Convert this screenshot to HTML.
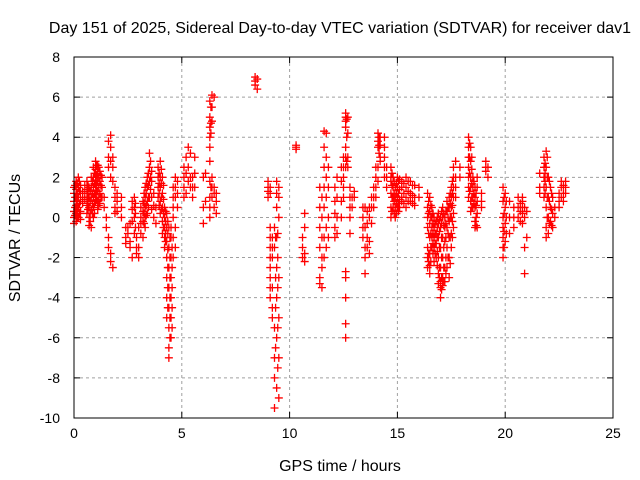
<!DOCTYPE html>
<html><head><meta charset="utf-8"><style>
body{margin:0;background:#fff}
svg{display:block;font-family:"Liberation Sans",sans-serif}
</style></head><body>
<svg id="chart" width="640" height="480">
<rect width="640" height="480" fill="#fff"/>
<text x="340" y="33" font-size="16" text-anchor="middle">Day 151 of 2025, Sidereal Day-to-day VTEC variation (SDTVAR) for receiver dav1</text>
<text x="340" y="471" font-size="16" text-anchor="middle">GPS time / hours</text>
<text transform="translate(20,238) rotate(-90)" font-size="16" text-anchor="middle">SDTVAR / TECUs</text>
<g id="grid"></g><g id="ticks"></g><g id="marks"></g>
<rect x="74" y="57" width="539" height="361" fill="none" stroke="#000" stroke-width="1"/>
</svg>
<script>
const xTicks=[0,5,10,15,20,25];
const yTicks=[8,6,4,2,0,-2,-4,-6,-8,-10];
const groupHours=[0.0,0.1,0.2,0.3,0.4,0.5,0.6,0.7,0.8,0.9,1.0,1.1,1.2,1.3,1.4,1.5,1.6,1.7,1.8,1.9,2.0,2.2,2.4,2.5,2.6,2.7,2.8,2.9,3.0,3.1,3.2,3.3,3.4,3.5,3.6,3.7,3.8,3.9,4.0,4.1,4.2,4.3,4.4,4.5,4.6,4.7,4.8,5.1,5.2,5.3,5.4,5.5,5.6,6.0,6.1,6.3,6.4,6.5,6.6,8.4,8.5,9.0,9.1,9.2,9.3,9.4,9.5,10.3,10.6,10.7,11.4,11.5,11.6,11.7,11.8,12.1,12.2,12.4,12.5,12.6,12.7,12.8,12.9,13.0,13.4,13.5,13.6,13.7,13.8,13.9,14.0,14.1,14.2,14.4,14.5,14.7,14.8,14.9,15.0,15.2,15.4,15.6,15.8,16.0,16.4,16.5,16.6,16.7,16.8,16.9,17.0,17.1,17.2,17.3,17.4,17.5,17.6,17.7,17.9,18.3,18.4,18.5,18.6,18.7,18.9,19.1,19.2,19.9,20.0,20.2,20.4,20.6,20.8,20.9,21.0,21.6,21.8,21.9,22.0,22.1,22.2,22.3,22.5,22.6,22.8,
0.05,0.15,0.25,0.65,0.75,0.85,0.95,1.05,1.15,1.25,2.85,3.25,3.35,3.45,3.55,3.95,4.05,4.15,4.25,4.35,4.45,4.55,6.35,9.35,9.45,12.65,14.15,14.75,14.85,14.95,15.05,15.1,15.3,15.5,15.7,16.45,16.55,16.65,16.75,16.85,16.95,17.05,17.15,17.25,17.35,17.45,17.55,18.35,18.45,18.55,18.65,19.95,20.05,20.7,21.85,21.95,22.05,22.15,22.7];
const groupValues=[
[1.5,1.2,0.8,0.3,0,-0.3],[1.8,1.4,1.0,0.6,0.2,-0.2],[2.0,1.5,1.0,0.5,0.0],[1.6,1.2,0.8,0.3,-0.1],[1.3,1.0,0.7],[1.6,1.2,0.9],[1.8,1.4,1.0,0.6,0.2],[1.5,1.0,0.5,0,-0.4],[2.0,1.5,1.0,0.4,-0.5],[2.5,2.0,1.5,1.0,0.5,0],
[2.8,2.4,2.0,1.6,1.2,0.8],[2.6,2.2,1.8,1.3,0.8,0.4],[2.3,1.8,1.2,0.7],[2.0,1.5,1.0],[1.0,0.5],[0.0,-0.5],[3.8,3.0,2.5,-1.0,-1.5],[4.1,3.5,2.8,2.0,-1.8,-2.2],[3.0,2.5,1.8,-2.5],[1.5,1.0,0.5,0.2],
[1.2,0.8,0.3],[1.0,0.5,0],[-1.0,-1.3,-0.5],[-0.5,-0.8],[-1.2,-1.5,-0.3],[0.8,0.4,-0.2,-2.0],[1.0,0.5,0,-0.8],[-1.0,-1.5,-1.8],[-2.0,-1.5,-0.5],[0,0.5,-0.3,-0.8],
[0.8,0.3,-0.2,-1.0],[1.5,1.0,0.5,0,-0.5],[2.0,1.5,0.8,0.2],[3.2,2.5,1.8,1.0],[2.3,1.8,1.0,0.4],[1.2,0.6,0],[0.5,-0.3],[2.5,2.0,1.5,1.0],[2.8,2.0,1.5,0.8,0.2],[2.0,1.2,0.5,-0.2,-0.8],
[0.5,0,-0.5,-1.0,-1.5],[0.2,-0.5,-1.2,-2.0,-3.0,-4.0,-5.0],[-0.5,-1.5,-2.5,-3.5,-4.5,-5.5,-6.5,-7.0],[-0.5,-1.0,-2.0,-3.0,-4.0,-5.0,-6.0],[1.5,1.0,0.5,0,-1.0,-2.0],[2.0,1.5,1.0,-0.5,-1.5],[1.8,1.2,0.5],
[2.5,2.0,1.5,1.0],[3.0,2.2,1.2],[3.5,2.5,1.8],[3.2,2.0,1.5],[2.0,1.5,1.0],[3.0,2.2,1.5],[2.0,0.5,-0.3],[2.2,0.8],
[5.8,5.0,4.5,4.0,3.5,2.8,1.8,1.0,0.5,0.0],[6.1,5.5,4.8,2.0,1.5,1.0],[6.0,1.5,1.2,0.5],[1.2,0.8,0.2],[7.0,6.8,6.6],[6.9,6.4],
[1.8,1.5,1.3,1.0],[1.5,1.2,-0.5,-1.0,-1.5,-2.0,-2.5,-3.0,-3.5,-4.0],[-1.0,-1.5,-2.0,-3.5,-4.5,-5.0],[-1.5,-0.5,-5.5,-7.0,-8.0,-9.5],[1.8,1.2,0.5,-1.0,-2.5,-4.0,-6.0,-8.5],[1.5,1.0,0.0,-3.0,-5.0,-7.0,-9.0],
[3.6,3.5,3.4],[-1.0,-1.5,-2.0],[-0.5,-1.8,-2.2,0.2],[1.5,0.5,-0.5,-1.5,-3.0,-3.3],[1.0,0,-1.0,-2.0,-2.5,-3.5],[4.3,3.5,2.5,1.5,0.5,-1.0,-2.0],[4.2,3.0,2.0,1.0,-0.5,-1.5],[2.5,1.5,0,-1.0],
[1.5,0.8,0.2,-0.5,-1.0],[2.0,1.0,0,-0.8],[2.5,1.8,0.8,0],[3.0,2.5,2.0,1.5,1.0],[5.2,5.0,4.8,4.5,3.5,3.0,2.5,-2.7,-3.0,-4.0,-5.3,-6.0],[5.0,4.2,3.0,2.5],[1.5,1.0,0.5,0,-0.8],[1.0,0.5],[1.3,1.0],
[0.5,0,-0.5,-1.0],[0.5,-0.5,-1.5,-2.0,-2.8],[0.3,-0.3,-1.0,-1.5],[0.5,0,-1.2,-1.8],[1.0,0.5,-0.3],[1.5,1.0,0.5],[2.5,2.0,1.5,1.0],[4.2,3.8,3.5,2.5,1.8],[4.0,3.6,3.0,2.8],[4.0,3.5,3.0,2.5,2.0],[2.5,2.0,1.5],
[2.5,2.0,1.8,1.2,0.5,0],[2.0,1.5,1.0,0.5],[1.5,1.0,0.5,0],[2.0,1.5,1.0,0.5],[1.8,1.5,1.0,0.8],[2.0,1.5,1.0,0.5],[1.8,1.2,0.8],[1.6,1.0,0.6],[1.5,1.0],
[1.2,0.5,0,-0.5,-1.5,-2.0,-2.5],[1.0,0.3,-0.3,-1.0,-1.8,-2.4,-2.8],[0.5,0,-0.5,-1.0,-1.5],[0,-0.5,-1.0,-1.5,-2.2],[-0.2,-0.8,-1.3,-2.0],[0.2,-0.3,-1.0,-2.0,-2.8,-3.3],[0,-0.5,-1.5,-2.5,-3.2,-3.5,-4.0],[0.5,0,-1.0,-2.0,-3.0,-3.4],[0,-0.5,-1.2,-2.5,-3.2],[0.8,0.3,-0.5,-1.5,-2.5],[1.0,0.5,-0.2,-1.0,-2.0,-3.0],[1.5,1.0,0.5,0,-0.8,-1.5],[2.5,2.0,1.5,1.0,0.2,-0.5],[2.8,2.0,1.5,1.0],[2.5,2.0],
[4.0,3.5,3.0,2.5,2.0,1.5,1.0],[3.5,2.8,2.0,1.5,0.8,0.3],[2.0,1.5,1.0,0.5],[1.5,1.0,0.5,-0.2,-0.5],[2.0,1.5,0.8,0.2,-0.5],[1.2,0.8,0.5],[2.8,2.5,2.3],[2.5,2.0],
[1.5,0.8,0,-0.5,-1.0,-1.5,-2.0],[1.2,0.5,-0.3,-1.2],[0.8,0,-0.8],[0.5,0,-0.5],[1.0,0.5,0],[1.0,0.8,0.5,0.2,-0.3],[0.5,0,-1.5,-2.8],[0.3,-1.0],
[1.5,1.2,2.2],[3.0,2.5,2.0,1.5,1.0],[3.3,2.5,1.5,0.5,-0.5,-1.0],[2.0,1.0,0,-0.8],[1.5,0.5,-0.2],[1.0,0.2,-0.5],[0.5,0],[1.2,0.8,0.5],[1.8,1.5,1.0],[1.8,1.5,1.2],
[1.6,1.0,0.5,0.1],[1.7,1.2,0.8,0.4,0],[1.8,1.3,0.7,0.2],[1.6,1.2,0.8,0.4],[1.3,0.8,0.2,-0.2],[1.8,1.2,0.7,0.2],[2.2,1.7,1.2,0.7,0.2],[2.6,2.1,1.7,1.3,0.9],[2.5,2.0,1.5,1.0,0.6],[2.1,1.6,1.0],
[0.7,0.2,-0.5],[1.2,0.7,0.2,-0.3],[1.7,1.2,0.6,0.1],[2.2,1.6,1.0,0.5],[2.8,2.0,1.4],[2.2,1.7,1.2,0.6],[2.4,1.7,1.0,0.4],[1.6,0.9,0.2,-0.5],[0.3,-0.2,-0.8,-1.2],[-0.2,-0.8,-1.6,-2.5,-3.5,-4.5],[-1.0,-2.0,-3.0,-4.0,-5.0,-6.0],[-1.5,-2.5,-3.5,-4.5,-5.5],
[5.5,4.7,4.2,1.5],[-1.0,-3.0,-4.5,-6.5],[-0.8,-2.0,-3.5,-5.5,-7.5],[4.9,4.0,2.8],[4.0,3.6,3.2],[2.2,1.6,1.0,0.3],[1.8,1.2,0.8,0.2],[1.7,1.2,0.7,0.2],[1.8,1.2,0.7,0.3],[1.9,1.4,0.9,0.5],[1.7,1.2,0.7],[1.8,1.3,0.8],[1.6,1.1,0.7],
[0.8,0.2,-0.8,-1.8,-2.2],[0.6,0,-0.8,-1.5,-2.2],[0.2,-0.3,-0.8,-1.3,-1.8],[-0.3,-0.8,-1.3,-1.8],[0,-0.5,-1.0,-1.7,-2.4],[-0.1,-0.7,-1.5,-2.5,-3.0],[0.3,-0.3,-1.0,-2.0,-3.0,-3.6],[0.2,-0.4,-1.5,-2.5,-3.2],[0.3,-0.3,-1.0,-2.0,-2.8],[0.5,0,-0.8,-2.0],[1.2,0.7,0,-1.0,-2.3],[1.8,1.2,0.6,-0.2,-1.0],
[3.7,3.0,2.2,1.3],[3.0,2.4,1.7,1.0,0.5],[1.8,1.2,0.7],[1.2,0.6,0,-0.4],[1.0,0.2,-0.7,-1.5],[0.8,0,-0.8],[0.7,0.3,-0.2],[2.7,2.2,1.8,1.2],[3.0,2.0,1.0,0],[1.8,0.8,-0.3],[1.2,0.4,-0.4],[1.6,1.2,0.8]
];
const L=74,R=613,T=57,B=418;
const xs=h=>L+(h-0)/(25-0)*(R-L);
const ys=v=>B-(v-(-10))/(8-(-10))*(B-T);
const NS='http://www.w3.org/2000/svg';
function mk(tag,attrs,parent){const e=document.createElementNS(NS,tag);for(const k in attrs)e.setAttribute(k,attrs[k]);parent.appendChild(e);return e;}
const grid=document.getElementById('grid'),ticks=document.getElementById('ticks'),marks=document.getElementById('marks');
xTicks.forEach(t=>{const x=xs(t);
 if(t>0&&t<25){const g=mk('line',{x1:x,x2:x,y1:T,y2:B,stroke:'#a0a0a0','stroke-dasharray':'3,3'},grid);
 
 }
 mk('line',{x1:x,x2:x,y1:B,y2:B-6,stroke:'#000'},ticks);
 mk('line',{x1:x,x2:x,y1:T,y2:T+6,stroke:'#000'},ticks);
 const tx=mk('text',{x:x,y:B+20,'font-size':14,'text-anchor':'middle'},ticks);tx.textContent=t;
 
 
});
yTicks.forEach(t=>{const y=ys(t);
 if(t>-10&&t<8){const g=mk('line',{x1:L,x2:R,y1:y,y2:y,stroke:'#a0a0a0','stroke-dasharray':'3,3'},grid);
 
 }
 mk('line',{x1:L,x2:L+6,y1:y,y2:y,stroke:'#000'},ticks);
 mk('line',{x1:R,x2:R-6,y1:y,y2:y,stroke:'#000'},ticks);
 const tx=mk('text',{x:L-14,y:y+5,'font-size':14,'text-anchor':'end'},ticks);tx.textContent=t;
 
 
});
groupHours.forEach((h,i)=>{(groupValues[i]||[]).forEach(v=>{
 const x=xs(h),y=ys(v);
 const p=mk('path',{d:`M${x-4},${y}H${x+4}M${x},${y-4}V${y+4}`,stroke:'#ff0000','stroke-width':1.3,fill:'none'},marks);
 
 
});});
</script>
</body></html>
